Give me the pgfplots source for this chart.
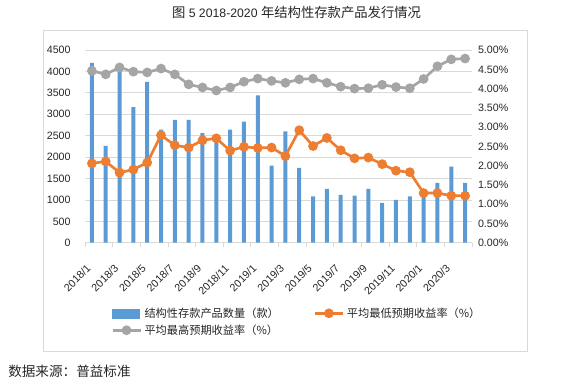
\documentclass[border=0pt]{standalone}
\usepackage{pgfplots}
\usepackage{pgfplotstable}
\pgfplotsset{compat=1.18}
\usepackage{fontspec}
\setmainfont{Liberation Sans}
\newfontfamily\cjk{Noto Sans CJK SC}
\definecolor{cblue}{HTML}{5B9BD5}
\definecolor{corange}{HTML}{ED7D31}
\definecolor{cgray}{HTML}{A5A5A5}
\definecolor{cgrid}{HTML}{D9D9D9}
\definecolor{ctxt}{HTML}{262626}

\pgfplotstableread{
x cnt low high
0 4200 2.06 4.46
1 2260 2.11 4.37
2 4080 1.82 4.55
3 3170 1.90 4.44
4 3760 2.08 4.42
5 2640 2.79 4.52
6 2870 2.53 4.37
7 2870 2.47 4.11
8 2560 2.66 4.03
9 2450 2.71 3.95
10 2640 2.39 4.03
11 2830 2.49 4.18
12 3440 2.46 4.26
13 1800 2.47 4.20
14 2600 2.25 4.15
15 1750 2.92 4.24
16 1080 2.51 4.26
17 1260 2.72 4.15
18 1120 2.40 4.05
19 1100 2.19 4.00
20 1260 2.21 4.01
21 930 2.04 4.10
22 1000 1.87 4.04
23 1080 1.83 4.01
24 1200 1.29 4.25
25 1400 1.29 4.58
26 1780 1.22 4.76
27 1400 1.22 4.78
}\data

\pgfplotsset{
  /pgf/number format/assume math mode=true,
  /pgf/number format/set thousands separator={},
  mylineleg/.style={legend image code/.code={\draw[mark repeat=2,mark phase=2,##1] plot coordinates {(0pt,0pt) (10.5pt,0pt) (21pt,0pt)};}},
  common/.style={
    at={(63.75pt,105.2pt)}, anchor=south west,
    scale only axis, width=290.25pt, height=144.5pt,
    xmin=-0.5, xmax=27.5,
    axis line style={draw=none},
    tick label style={font=\fontsize{8}{9}\selectfont, text=ctxt},
  },
}

\begin{document}
\begin{tikzpicture}[x=1pt,y=1pt]
\path[use as bounding box] (0,0) rectangle (428.25,287.25);
\draw[color=cgrid, line width=0.75pt] (32.25,24) rectangle (395.25,264);
\node[font=\fontsize{9.2}{12}\selectfont, text=ctxt] at (222.4,278.25) {{\cjk\fontsize{10}{12}\selectfont 图} 5 2018-2020 {\cjk\fontsize{10}{12}\selectfont 年结构性存款产品发行情况}};
\node[anchor=west, inner sep=0pt, font=\cjk\fontsize{10.2}{12}\selectfont, text=ctxt] at (6,8.5) {数据来源：普益标准};

\begin{axis}[common,
  ymin=0, ymax=4500,
  ytick={0,500,1000,1500,2000,2500,3000,3500,4000,4500},
  ymajorgrids, grid style={cgrid, line width=0.6pt},
  ytick pos=left, ytick style={draw=none},
  yticklabel style={xshift=-3pt},
  xtick={0,2,4,6,8,10,12,14,16,18,20,22,24,26},
  xticklabels={2018/1,2018/3,2018/5,2018/7,2018/9,2018/11,2019/1,2019/3,2019/5,2019/7,2019/9,2019/11,2020/1,2020/3},
  major x tick style={draw=none},
  minor xtick={-0.5,1.5,3.5,5.5,7.5,9.5,11.5,13.5,15.5,17.5,19.5,21.5,23.5,25.5,27.5},
  minor x tick style={draw=cgrid, line width=0.6pt},
  minor tick length=3pt, tick align=outside, xtick pos=bottom,
  xticklabel style={xshift=-4.5pt, yshift=-6.5pt, rotate=45, anchor=north east},
]
\addplot[ybar, bar width=3pt, fill=cblue, draw=none] table[x=x,y=cnt]{\data};
\end{axis}

\begin{axis}[common,
  ymin=0, ymax=5,
  xtick=\empty,
  ytick={0,0.5,1,1.5,2,2.5,3,3.5,4,4.5,5},
  ytick pos=right, ytick style={draw=none},
  yticklabel={\pgfmathprintnumber[fixed,fixed zerofill,precision=2]{\tick}\%},
  yticklabel style={xshift=1pt},
  legend columns=2,
  legend cell align=left,
  legend style={at={(axis description cs:0.067,-0.321)}, anchor=north west,
    draw=none, fill=none, inner sep=0pt,
    font=\cjk\fontsize{8.4}{10}\selectfont, text=ctxt,
    /tikz/every even column/.append style={column sep=24pt},
    row sep=0pt},
]
\addlegendimage{legend image code/.code={\fill[cblue] (0pt,-3.4pt) rectangle (20pt,3.4pt);}}
\addlegendentry{结构性存款产品数量（款）}
\addplot[corange, line width=2pt, mark=*, mark size=2.6pt, mark options={solid, fill=corange, draw=corange}, mylineleg] table[x=x,y=low]{\data};
\addlegendentry{平均最低预期收益率（\%）}
\addplot[cgray, line width=2pt, mark=*, mark size=2.6pt, mark options={solid, fill=cgray, draw=cgray}, mylineleg] table[x=x,y=high]{\data};
\addlegendentry{平均最高预期收益率（\%）}
\end{axis}
\end{tikzpicture}
\end{document}
